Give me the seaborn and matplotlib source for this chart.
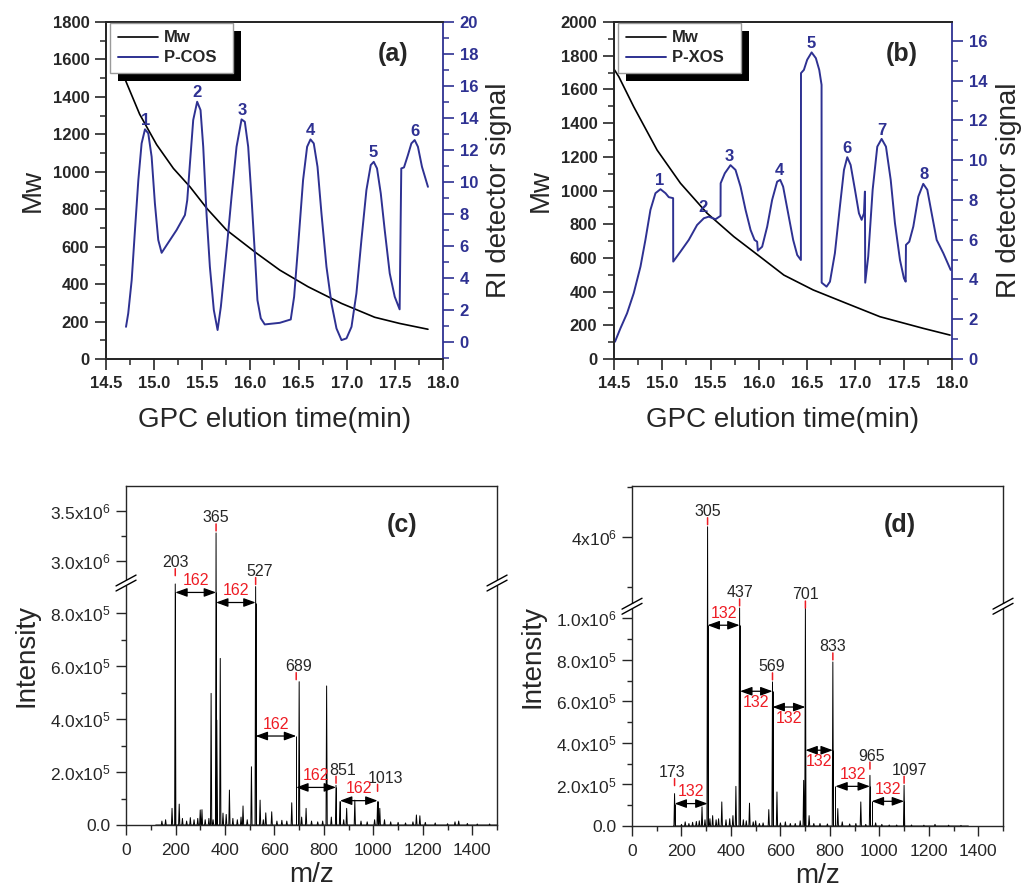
import numpy as np
import matplotlib
matplotlib.use('Agg')
import matplotlib.pyplot as plt
import seaborn as sns
from matplotlib.lines import Line2D
from matplotlib.patches import Rectangle
from matplotlib.transforms import IdentityTransform
from matplotlib.ticker import MultipleLocator, FixedLocator, FixedFormatter, FormatStrFormatter

sns.set_style('ticks')
plt.rcParams['font.family'] = ['Liberation Sans', 'DejaVu Sans']
plt.rcParams['mathtext.fontset'] = 'custom'
plt.rcParams['mathtext.rm'] = 'Liberation Sans'
plt.rcParams['mathtext.it'] = 'Liberation Sans:italic'
plt.rcParams['mathtext.bf'] = 'Liberation Sans:bold'

BLUE = '#2e3192'
RED = '#ee1c24'

# ── (a) GPC of P-COS ──────────────────────────────────────────────────────────
a_mw_t = [14.60, 14.715, 14.85, 15.026, 15.20, 15.372, 15.55, 15.752, 16.064,
          16.305, 16.599, 16.946, 17.291, 17.55, 17.844]
a_mw = [1620, 1473, 1307, 1145, 1018, 920, 803, 689, 565, 475, 386, 297, 223,
        190, 159]
a_ri_t = [14.708, 14.731, 14.767, 14.801, 14.836, 14.870, 14.905, 14.939, 14.974,
          15.008, 15.043, 15.078, 15.130, 15.233, 15.320, 15.344, 15.372, 15.406,
          15.447, 15.482, 15.510, 15.544, 15.579, 15.620, 15.659, 15.693, 15.735,
          15.759, 15.804, 15.856, 15.908, 15.942, 15.977, 16.011, 16.046, 16.073,
          16.108, 16.149, 16.305, 16.419, 16.454, 16.495, 16.547, 16.589, 16.624,
          16.658, 16.697, 16.738, 16.790, 16.842, 16.894, 16.946, 16.998, 17.050,
          17.101, 17.153, 17.205, 17.250, 17.281, 17.315, 17.354, 17.395, 17.447,
          17.499, 17.550, 17.567, 17.595, 17.636, 17.672, 17.706, 17.740, 17.782,
          17.844]
a_ri = [0.97, 1.81, 3.89, 7.01, 10.13, 12.42, 13.30, 13.05, 11.59,
        8.68, 6.39, 5.59, 6.07, 7.01, 7.95, 8.88, 11.17, 13.88,
        15.02, 14.50, 12.21, 8.05, 4.72, 2.02, 0.77, 2.22, 4.72,
        6.18, 9.09, 12.21, 13.92, 13.77, 12.21, 9.09, 5.56, 2.64,
        1.50, 1.12, 1.22, 1.43, 2.85, 5.97, 10.13, 12.21, 12.67,
        12.42, 10.96, 8.05, 4.72, 2.43, 0.87, 0.14, 0.25, 0.97,
        3.06, 6.39, 9.51, 11.07, 11.27, 10.86, 9.30, 7.01, 4.31,
        2.85, 2.06, 10.86, 10.92, 11.69, 12.42, 12.63, 12.21, 10.96,
        9.71]
a_pk_t = [14.91, 15.45, 15.915, 16.624, 17.28, 17.71]
a_pk_v = [13.30, 15.02, 13.92, 12.67, 11.27, 12.63]

# ── (b) GPC of P-XOS ──────────────────────────────────────────────────────────
b_mw_t = [14.50, 14.549, 14.704, 14.946, 15.188, 15.464, 15.741, 16.017, 16.259,
          16.562, 16.909, 17.254, 17.702, 17.98]
b_mw = [1720, 1676, 1497, 1240, 1043, 865, 726, 605, 498, 410, 330, 251, 182, 142]
b_ri_t = [14.51, 14.566, 14.635, 14.704, 14.774, 14.825, 14.877, 14.929, 14.981,
          15.033, 15.067, 15.112, 15.113, 15.188, 15.274, 15.360, 15.430, 15.481,
          15.551, 15.603, 15.604, 15.647, 15.706, 15.758, 15.810, 15.862, 15.914,
          15.955, 15.982, 15.989, 16.034, 16.086, 16.137, 16.189, 16.221, 16.251,
          16.303, 16.355, 16.397, 16.435, 16.436, 16.466, 16.500, 16.546, 16.590,
          16.625, 16.649, 16.650, 16.701, 16.736, 16.787, 16.839, 16.881, 16.915,
          16.950, 16.995, 17.036, 17.064, 17.088, 17.098, 17.101, 17.132, 17.178,
          17.226, 17.271, 17.316, 17.365, 17.409, 17.461, 17.502, 17.520, 17.523,
          17.557, 17.599, 17.651, 17.702, 17.744, 17.789, 17.841, 17.910, 17.986]
b_ri = [0.87, 1.54, 2.30, 3.31, 4.65, 5.99, 7.50, 8.34, 8.54,
        8.34, 8.14, 8.09, 4.90, 5.40, 5.99, 6.74, 7.08, 7.16,
        7.03, 7.20, 8.84, 9.34, 9.75, 9.51, 8.67, 7.50, 6.49,
        5.99, 5.90, 5.45, 5.65, 6.66, 8.00, 8.92, 9.01, 8.67,
        7.33, 5.99, 5.23, 4.98, 14.38, 14.54, 15.05, 15.42, 15.13,
        14.54, 13.79, 3.84, 3.64, 3.89, 5.32, 7.67, 9.51, 10.15,
        9.76, 8.51, 7.33, 7.00, 7.33, 8.42, 3.84, 5.15, 8.51,
        10.68, 11.07, 10.68, 9.01, 6.83, 4.98, 4.06, 3.89, 5.74,
        5.90, 6.66, 8.17, 8.81, 8.51, 7.33, 5.99, 5.32, 4.48]
b_pk_t = [14.97, 15.42, 15.69, 16.21, 16.54, 16.91, 17.27, 17.71]
b_pk_v = [8.54, 7.16, 9.75, 9.01, 15.42, 10.15, 11.07, 8.81]

# ── (c) MS of P-COS ───────────────────────────────────────────────────────────
c_mz = [145, 160, 186, 199, 215, 228, 245, 260, 275, 290, 300, 307, 320, 335,
        344, 352, 364, 367, 381, 392, 405, 418, 432, 450, 465, 473, 490, 507,
        524, 542, 555, 565, 589, 610, 630, 650, 670, 700, 710, 728, 750, 775,
        795, 811, 830, 849, 865, 880, 892, 925, 950, 975, 1005, 1017, 1026,
        1045, 1070, 1100, 1130, 1160, 1174, 1188, 1210, 1250, 1300, 1330, 1345,
        1380, 1420, 1470]
c_int = [1.5e4, 2.0e4, 6.3e4, 9.1e5, 7.9e4, 2.5e4, 1.5e4, 2.8e4, 2.0e4, 2.5e4,
         5.7e4, 5.8e4, 2.0e4, 2.5e4, 4.97e5, 2.0e4, 3.28e6, 3.96e5, 6.29e5,
         4.5e4, 4.0e4, 1.32e5, 2.5e4, 2.0e4, 3.0e4, 7.2e4, 2.0e4, 2.2e5, 9.0e5,
         9.4e4, 2.0e4, 4.6e4, 5.0e4, 1.5e4, 1.8e4, 1.5e4, 8.4e4, 5.41e5, 3.0e4,
         6.3e4, 1.5e4, 1.2e4, 1.5e4, 5.25e5, 3.0e4, 1.5e5, 8.8e4, 2.0e4, 6.3e4,
         9.4e4, 1.5e4, 1.2e4, 2.0e4, 8.8e4, 6.3e4, 2.0e4, 1.2e4, 1.0e4, 8e3,
         1.2e4, 3.8e4, 3.5e4, 1.0e4, 8e3, 5e3, 1.2e4, 1.5e4, 6e3, 4e3, 4e3]
c_lbl = ['203', '365', '527', '689', '851', '1013']
c_lbl_mz = [199, 364, 524, 688, 849, 1017]
c_lbl_int = [9.1e5, 3.28e6, 9.0e5, 5.41e5, 1.5e5, 8.8e4]
c_arr_x0 = [199, 364, 524, 688, 865]
c_arr_x1 = [364, 524, 688, 849, 1017]
c_arr_y = [8.78e5, 8.4e5, 3.36e5, 1.42e5, 9.2e4]

# ── (d) MS of P-XOS ───────────────────────────────────────────────────────────
d_mz = [172, 200, 215, 230, 245, 260, 272, 283, 295, 305.5, 315, 326, 340, 350,
        363, 380, 395, 408, 420, 435, 450, 462, 475, 490, 500, 515, 530, 553,
        568, 586, 600, 620, 640, 660, 680, 694, 701, 716, 735, 760, 790, 812,
        832, 850, 880, 905, 925, 945, 962, 985, 1010, 1040, 1070, 1100, 1130,
        1180, 1225, 1280, 1330]
d_int = [1.56e5, 8e3, 2.0e4, 1.2e4, 1.8e4, 2.2e4, 2.5e4, 9.2e4, 3e4, 4.1e6,
         3.5e4, 5.0e4, 3.0e4, 3.5e4, 1.16e5, 3.0e4, 3.5e4, 5.0e4, 1.91e5,
         1.05e6, 3.0e4, 2.5e4, 1.1e5, 2.0e4, 2.5e4, 1.2e4, 1.5e4, 7.9e4,
         6.94e5, 1.64e5, 1.5e4, 2.0e4, 1.2e4, 1.2e4, 2.5e4, 2.2e5, 1.05e6,
         5.0e4, 1.2e4, 1.2e4, 1.0e4, 7.9e5, 8.4e4, 2.0e4, 1.0e4, 1.2e4, 1.16e5,
         8e3, 2.44e5, 1.5e4, 8e3, 5e3, 5e3, 1.96e5, 5e3, 4e3, 8e3, 4e3, 3e3]
d_lbl = ['173', '305', '437', '569', '701', '833', '965', '1097']
d_lbl_mz = [172, 305.5, 435, 568, 701, 812, 962, 1100]
d_lbl_int = [1.56e5, 4.1e6, 1.05e6, 6.94e5, 1.05e6, 7.9e5, 2.44e5, 1.96e5]
d_arr_x0 = [172, 305.5, 437, 568, 701, 822, 969]
d_arr_x1 = [305.5, 435, 568, 701, 812, 962, 1100]
d_arr_y = [1.08e5, 9.67e5, 6.49e5, 5.73e5, 3.65e5, 1.91e5, 1.19e5]


def gpc_panel(ax, mw_t, mw, ri_t, ri, pk_t, pk_v, name, letter, mw_max, ri_lim):
    ax2 = ax.twinx()
    sns.lineplot(x=mw_t, y=mw, ax=ax, color='black', lw=1.2, sort=False,
                 estimator=None, legend=False)
    sns.lineplot(x=ri_t, y=ri, ax=ax2, color=BLUE, lw=1.4, sort=False,
                 estimator=None, legend=False)
    for i, (t, v) in enumerate(zip(pk_t, pk_v)):
        ax2.annotate(str(i + 1), (t, v), xytext=(0, 1), textcoords='offset points',
                     ha='center', va='bottom', color=BLUE, fontsize=12,
                     fontweight='bold')
    ax.set_xlim(14.5, 18.0)
    ax.set_ylim(0, mw_max)
    ax2.set_ylim(*ri_lim)
    ax.xaxis.set_major_locator(MultipleLocator(0.5))
    ax.xaxis.set_minor_locator(MultipleLocator(0.25))
    ax.xaxis.set_major_formatter(FormatStrFormatter('%.1f'))
    ax.yaxis.set_major_locator(MultipleLocator(200))
    ax.yaxis.set_minor_locator(MultipleLocator(100))
    ax2.yaxis.set_major_locator(MultipleLocator(2))
    ax2.yaxis.set_minor_locator(MultipleLocator(1))
    for a in (ax, ax2):
        a.tick_params(which='major', direction='out', length=8, width=1.2,
                      labelsize=12, pad=4)
        a.tick_params(which='minor', direction='out', length=4.5, width=1.1)
        for s in a.spines.values():
            s.set_linewidth(1.3)
    ax.spines['right'].set_visible(False)
    ax2.spines['right'].set_color(BLUE)
    ax2.tick_params(axis='y', which='both', colors=BLUE)
    ax.set_xlabel('GPC elution time(min)', fontsize=20, labelpad=12)
    ax.set_ylabel('Mw', fontsize=20, labelpad=5)
    ax2.set_ylabel('RI detector signal', fontsize=20, labelpad=6)
    for lbl in ax.get_xticklabels() + ax.get_yticklabels() + ax2.get_yticklabels():
        lbl.set_fontweight('bold')
    ax.text(0.852, 0.905, letter, transform=ax.transAxes, ha='center', va='center',
            fontsize=18, fontweight='bold')
    handles = [Line2D([], [], color='black', lw=1.2), Line2D([], [], color=BLUE, lw=1.4)]
    leg = ax2.legend(handles, ['Mw', name + '  '], loc='upper left',
                     bbox_to_anchor=(0.012, 0.997), borderaxespad=0, frameon=True,
                     fancybox=False, edgecolor='#9a9a9a', framealpha=1,
                     prop={'weight': 'bold', 'size': 12}, handlelength=2.4,
                     handletextpad=0.4, labelspacing=0.3, borderpad=0.45)
    leg.get_frame().set_linewidth(1.0)
    return ax2, leg


def make_break(lo, hi, ratio, gap=1e3):
    def fwd(y):
        y = np.asarray(y, dtype=float)
        return np.where(y <= lo, y,
                        np.where(y >= hi, lo + gap + (y - hi) * ratio,
                                 lo + (y - lo) / (hi - lo) * gap))

    def inv(z):
        z = np.asarray(z, dtype=float)
        return np.where(z <= lo, z,
                        np.where(z >= lo + gap, hi + (z - lo - gap) / ratio,
                                 lo + (z - lo) / gap * (hi - lo)))
    return fwd, inv


def ms_panel(ax, mz, inten, start, end, lbl, lbl_mz, lbl_int, lbl_dx, lbl_lift,
             ax0, ax1, ay, aside, diff, brk, ymax, majors, major_txt, minors, letter):
    # profile line built from the listed peaks
    order = np.argsort(mz)
    xs, ys = [start], [0.0]
    for m, v in zip(np.asarray(mz, float)[order], np.asarray(inten, float)[order]):
        xs += [m - 2.5, m, m + 2.5]
        ys += [0.0, v, 0.0]
    xs.append(end)
    ys.append(0.0)
    fwd, inv = make_break(*brk)
    ax.set_yscale('function', functions=(fwd, inv))
    sns.lineplot(x=xs, y=ys, ax=ax, color='black', lw=0.7, sort=False,
                 estimator=None, legend=False)
    ax.set_xlim(0, 1500)
    ax.set_ylim(0, ymax)
    ax.xaxis.set_major_locator(MultipleLocator(200))
    ax.xaxis.set_minor_locator(MultipleLocator(100))
    ax.yaxis.set_major_locator(FixedLocator(majors))
    ax.yaxis.set_major_formatter(FixedFormatter(major_txt))
    ax.yaxis.set_minor_locator(FixedLocator(minors))
    ax.tick_params(which='major', direction='out', length=7, width=1.0,
                   labelsize=12.5, pad=4, right=False, top=False)
    ax.tick_params(which='minor', direction='out', length=3.5, width=1.0,
                   right=False, top=False)
    ax.tick_params(axis='x', pad=6)
    for s in ax.spines.values():
        s.set_linewidth(1.0)
    ax.set_xlabel('m/z', fontsize=20, labelpad=3)
    ax.set_ylabel('Intensity', fontsize=20, labelpad=8)
    # peak labels with red markers
    for t, x, y, dx, lift in zip(lbl, lbl_mz, lbl_int, lbl_dx, lbl_lift):
        ax.annotate('', xy=(x, y), xytext=(0, 6.5 + lift), textcoords='offset points',
                    arrowprops=dict(arrowstyle='-', color=RED, lw=1.1,
                                    shrinkA=0, shrinkB=1.5 + lift))
        ax.annotate(t, (x, y), xytext=(dx, 5.5 + lift), textcoords='offset points',
                    ha='center', va='bottom', fontsize=11.5)
    # mass-difference arrows
    ax.vlines(ax0 + ax1, 0, ay + ay, color='black', lw=0.7)
    for x0, x1, y, sd in zip(ax0, ax1, ay, aside):
        ax.annotate('', xy=(x1, y), xytext=(x0, y),
                    arrowprops=dict(arrowstyle='<|-|>,head_length=0.6,head_width=0.22',
                                    color='black', lw=0.9, shrinkA=0, shrinkB=0,
                                    mutation_scale=12))
        ax.annotate(diff, ((x0 + x1) / 2, y), xytext=(0, 3 * sd),
                    textcoords='offset points', ha='center',
                    va='bottom' if sd > 0 else 'top', color=RED, fontsize=11.5)
    ax.text(*letter[1], letter[0], transform=ax.transAxes, ha='center', va='center',
            fontsize=18, fontweight='bold')
    # axis break marks
    yb = float((fwd(brk[0]) + brk[3] / 2) / fwd(ymax))
    for xa in (0, 1):
        ax.add_patch(Rectangle((xa - 0.012, yb - 0.0075), 0.024, 0.015,
                               transform=ax.transAxes, facecolor='white',
                               edgecolor='none', clip_on=False, zorder=5))
        for dy in (-0.0075, 0.0075):
            ax.plot([xa - 0.027, xa + 0.027], [yb + dy - 0.016, yb + dy + 0.016],
                    transform=ax.transAxes, color='black', lw=1.0, clip_on=False,
                    zorder=6)


fig = plt.figure(figsize=(10.28, 8.90), dpi=100)
ax_a = fig.add_axes([0.1031, 0.5966, 0.3278, 0.3787])
ax_b = fig.add_axes([0.5973, 0.5966, 0.3288, 0.3787])
ax_c = fig.add_axes([0.1226, 0.0730, 0.3609, 0.3809])
ax_d = fig.add_axes([0.6148, 0.0719, 0.3609, 0.3820])

a2, leg_a = gpc_panel(ax_a, a_mw_t, a_mw, a_ri_t, a_ri, a_pk_t, a_pk_v,
                      'P-COS', '(a)', 1800, (-1.04, 20))
b2, leg_b = gpc_panel(ax_b, b_mw_t, b_mw, b_ri_t, b_ri, b_pk_t, b_pk_v,
                      'P-XOS', '(b)', 2000, (0, 16.95))

ms_panel(ax_c, c_mz, c_int, 120, 1500, c_lbl, c_lbl_mz, c_lbl_int,
         [0, 0, 3, 1.5, 4.5, 6], [4.5, 0, 0, 0, 0, 6],
         c_arr_x0, c_arr_x1, c_arr_y, [1, 1, 1, 1, 1], '162',
         (9.13e5, 2.78e6, 0.377, 1e3), 3.75e6,
         [0, 2e5, 4e5, 6e5, 8e5, 3.0e6, 3.5e6],
         ['0.0', '2.0x10$^5$', '4.0x10$^5$', '6.0x10$^5$', '8.0x10$^5$',
          '3.0x10$^6$', '3.5x10$^6$'],
         [1e5, 3e5, 5e5, 7e5, 3.25e6], ('(c)', (0.744, 0.885)))
ms_panel(ax_d, d_mz, d_int, 168, 1360, d_lbl, d_lbl_mz, d_lbl_int,
         [-1.5, 0, 0, -0.7, 0, 0, 1.5, 3.6], [4.3, 0, 0, 0, -1.5, 0, 3, 0],
         d_arr_x0, d_arr_x1, d_arr_y, [1, 1, -1, -1, -1, 1, 1], '132',
         (1.058e6, 3.307e6, 0.482, 1e3), 4.507e6,
         [0, 2e5, 4e5, 6e5, 8e5, 1e6, 4e6],
         ['0.0', '2.0x10$^5$', '4.0x10$^5$', '6.0x10$^5$', '8.0x10$^5$',
          '1.0x10$^6$', '4x10$^6$'],
         [1e5, 3e5, 5e5, 7e5, 9e5, 3.5e6, 4.5e6], ('(d)', (0.722, 0.885)))

# black drop shadow behind the legends
fig.canvas.draw()
for ax2, leg in ((a2, leg_a), (b2, leg_b)):
    bb = leg.get_window_extent()
    ax2.add_patch(Rectangle((bb.x0 + 8, bb.y0 - 8), bb.width, bb.height,
                            transform=IdentityTransform(), facecolor='black',
                            edgecolor='none', clip_on=False, zorder=4.5))

fig.savefig('out.png', dpi=100)
